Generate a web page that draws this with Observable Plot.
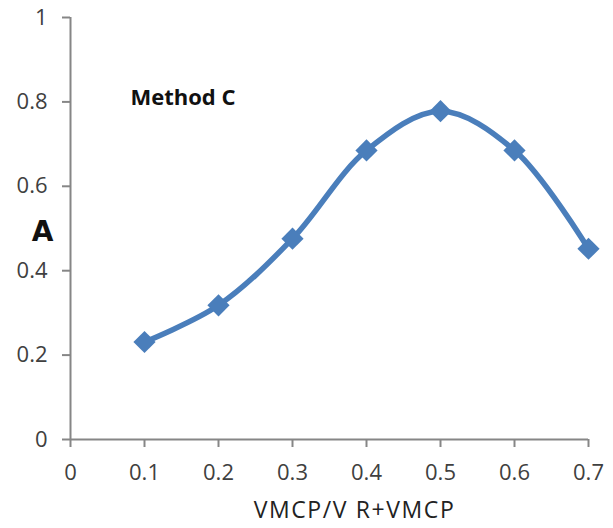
<!DOCTYPE html>
<html>
<head>
<meta charset="utf-8">
<script src="https://cdn.jsdelivr.net/npm/d3@7"></script>
<script src="https://cdn.jsdelivr.net/npm/@observablehq/plot@0.6"></script>
<style>
  html, body { margin: 0; padding: 0; background: #fff; }
  #chart svg { display: block; }
  .xtitle text { letter-spacing: 1.6px; }
</style>
</head>
<body>
<div id="chart"></div>
<script>
const ratios = [0.1, 0.2, 0.3, 0.4, 0.5, 0.6, 0.7];
const absorbance = [0.231, 0.318, 0.476, 0.685, 0.778, 0.685, 0.452];
const xTicks = [0, 0.1, 0.2, 0.3, 0.4, 0.5, 0.6, 0.7];
const yTicks = [0, 0.2, 0.4, 0.6, 0.8, 1];
const xTitle = "VMCP/V R+VMCP";
const yTitle = "A";
const annotation = [{x: 0.081, y: 0.81, text: "Method C"}];

const data = ratios.map((r, i) => ({x: r, y: absorbance[i]}));
const blue = "#4a7ebb";
const axisGray = "#868686";
const textGray = "#404040";
const font = "'Open Sans', 'Noto Sans', sans-serif";

const chart = Plot.plot({
  width: 613,
  height: 528,
  marginLeft: 70,
  marginRight: 25,
  marginTop: 17,
  marginBottom: 89,
  style: {fontFamily: font, background: "#fff"},
  x: {domain: [0, 0.7]},
  y: {domain: [0, 1]},
  marks: [
    Plot.axisX({ticks: xTicks, tickSize: 8, tickPadding: 17, stroke: axisGray, strokeWidth: 2,
      fill: textGray, fontSize: 22, tickFormat: d => String(d), label: null}),
    Plot.axisY({ticks: yTicks, tickSize: 8, tickPadding: 15, stroke: axisGray, strokeWidth: 2,
      fill: textGray, fontSize: 22, tickFormat: d => String(d), label: null}),
    Plot.ruleX([0], {stroke: axisGray, strokeWidth: 2}),
    Plot.ruleY([0], {stroke: axisGray, strokeWidth: 2}),
    Plot.line(data, {x: "x", y: "y", stroke: blue, strokeWidth: 5.5, curve: "catmull-rom"}),
    Plot.dot(data, {x: "x", y: "y", symbol: "diamond2", r: 10, fill: blue, stroke: "none"}),
    Plot.text(annotation, {x: "x", y: "y", text: "text", textAnchor: "start", fontSize: 22,
      fontWeight: "bold", fill: "#111", fontFamily: font}),
    Plot.text([xTitle], {frameAnchor: "bottom", dx: 25, dy: 78, text: d => d, fontSize: 23,
      fill: "#222", className: "xtitle"}),
    Plot.text([yTitle], {frameAnchor: "left", textAnchor: "middle", dx: -28, dy: 4, text: d => d,
      fontSize: 28, fontWeight: "bold", fill: "#111", fontFamily: "'DejaVu Sans', sans-serif"})
  ]
});
document.getElementById("chart").appendChild(chart);
</script>
</body>
</html>
